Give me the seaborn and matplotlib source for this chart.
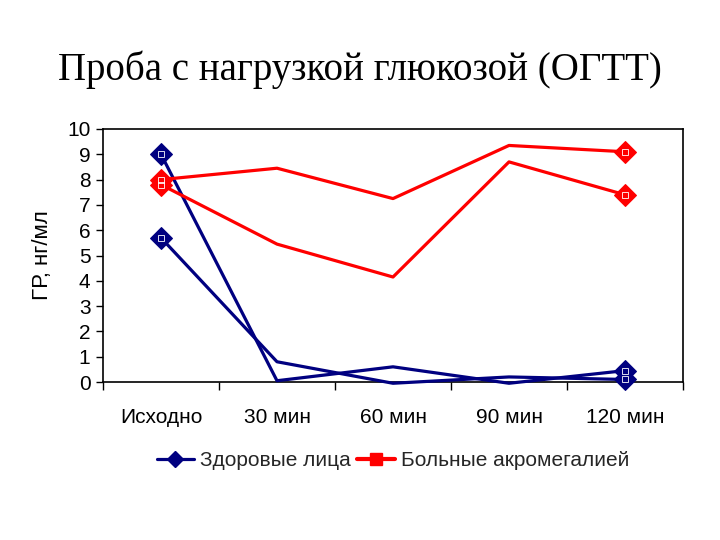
import matplotlib
matplotlib.use("Agg")
import matplotlib.pyplot as plt
from matplotlib.lines import Line2D
import seaborn as sns
import numpy as np

categories = ["Исходно", "30 мин", "60 мин", "90 мин", "120 мин"]
healthy_1 = [9.0, 0.05, 0.6, -0.05, 0.45]
healthy_2 = [5.7, 0.8, -0.05, 0.2, 0.1]
patient_1 = [8.0, 8.45, 7.25, 9.35, 9.1]
patient_2 = [7.8, 5.45, 4.15, 8.7, 7.4]
yticks = list(range(0, 11))

title = "Проба с нагрузкой глюкозой (ОГТТ)"
ylabel = "ГР, нг/мл"
legend_labels = ["Здоровые лица", "Больные акромегалией"]

navy = "#000080"
red = "#FF0000"

sns.set_theme(style="white")
plt.rcParams['font.family'] = ['Liberation Sans', 'DejaVu Sans']

fig = plt.figure(figsize=(7.2, 5.4), dpi=100)
ax = fig.add_axes([103/720, 1-382/540, (683-103)/720, (382-129)/540])

series = [(healthy_1, navy), (healthy_2, navy), (patient_1, red), (patient_2, red)]
for vals, col in series:
    sns.lineplot(x=categories, y=vals, ax=ax, color=col, lw=2.3, sort=False,
                 marker="D", markevery=[0, len(vals) - 1], markersize=11,
                 markeredgecolor=col, markerfacecolor=col, clip_on=False, zorder=3)
    xs = np.arange(len(vals))
    ax.plot([xs[0], xs[-1]], [vals[0], vals[-1]], linestyle="none", marker="s",
            markersize=5, markerfacecolor="none", markeredgecolor="white",
            markeredgewidth=0.6, clip_on=False, zorder=4)

ax.set_xlim(-0.5, 4.5)
ax.set_ylim(0, 10)
ax.set_yticks(yticks)
ax.set_yticklabels([str(t) for t in yticks], fontsize=15)
ax.set_xticks(range(len(categories)))
ax.set_xticklabels(categories, fontsize=15)
ax.set_xticks(np.arange(-0.5, 5.0, 1.0), minor=True)
ax.tick_params(axis="x", which="major", length=0, pad=19, colors="black")
ax.tick_params(axis="x", which="minor", length=6, width=1, direction="out", bottom=True, color="black")
ax.tick_params(axis="y", which="major", length=5, width=1, direction="out", left=True, pad=4, colors="black")
for s in ax.spines.values():
    s.set_color("black")
    s.set_linewidth(1.2)
ax.set_xlabel("")
ax.set_ylabel(ylabel, fontsize=16, color="black", labelpad=10)

fig.text(0.5, 1-70/540, title, ha="center", va="center", fontsize=28,
         family=["Liberation Serif", "DejaVu Serif"], color="black")

handles = [Line2D([0], [0], color=navy, lw=2.3, marker="D", markersize=8,
                  markerfacecolor=navy, markeredgecolor=navy),
           Line2D([0], [0], color=red, lw=3, marker="s", markersize=9,
                  markerfacecolor=red, markeredgecolor=red)]
fig.legend(handles, legend_labels, loc="center", bbox_to_anchor=(393/720, 1-461/540),
           ncol=2, frameon=False, fontsize=15, handlelength=1.8, handletextpad=0.3,
           columnspacing=0.3)

fig.savefig("out.png", dpi=100, facecolor="white")
